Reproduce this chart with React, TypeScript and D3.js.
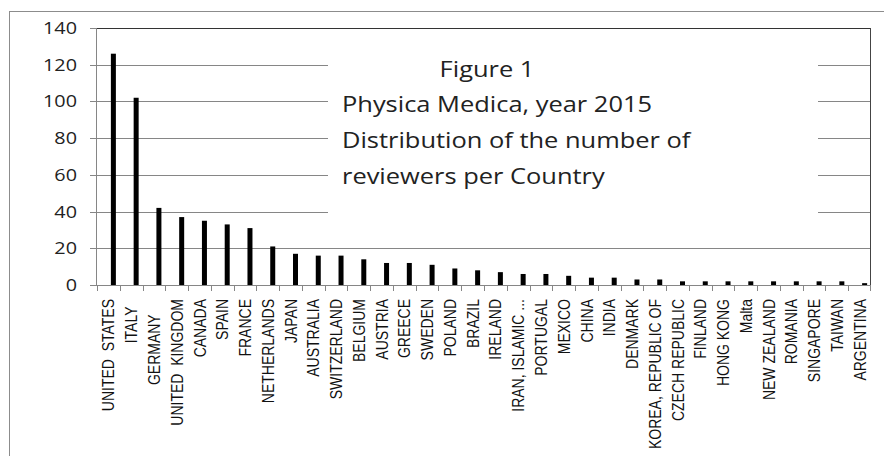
import React from 'react';
import * as d3 from 'd3';

// reviewers per country, Physica Medica 2015
const countries = [
  'UNITED  STATES', 'ITALY  ', 'GERMANY    ', 'UNITED  KINGDOM', 'CANADA', 'SPAIN', 'FRANCE',
  'NETHERLANDS', 'JAPAN', 'AUSTRALIA', 'SWITZERLAND', 'BELGIUM', 'AUSTRIA', 'GREECE',
  'SWEDEN', 'POLAND', 'BRAZIL', 'IRELAND', 'IRAN, ISLAMIC ...', 'PORTUGAL', 'MEXICO',
  'CHINA', 'INDIA', 'DENMARK', 'KOREA, REPUBLIC OF', 'CZECH REPUBLIC', 'FINLAND',
  'HONG KONG', 'Malta', 'NEW ZEALAND', 'ROMANIA', 'SINGAPORE', 'TAIWAN', 'ARGENTINA',
];
const reviewers = [
  126, 102, 42, 37, 35, 33, 31, 21, 17, 16, 16, 14, 12, 12, 11, 9, 8, 7, 6, 6, 5,
  4, 4, 3, 3, 2, 2, 2, 2, 2, 2, 2, 2, 1,
];
const yTicks = [0, 20, 40, 60, 80, 100, 120, 140];
const titleLines = [
  'Physica Medica, year 2015',
  'Distribution of the number of',
  'reviewers per Country',
];
const figureLabel = 'Figure 1';

const W = 884;
const H = 456;
const margin = { top: 28, right: 13, bottom: 171, left: 97 };

export default function App() {
  const innerW = W - margin.left - margin.right;
  const innerH = H - margin.top - margin.bottom;

  const x = d3.scaleBand<string>().domain(countries).range([0, innerW]).padding(0);
  const y = d3.scaleLinear().domain([0, 140]).range([innerH, 0]);
  const barW = 5;
  const barShift = 5; // bars sit a bit right of the band centre
  const stretch = 1.2; // the original picture is drawn wider than it is tall

  return (
    <svg
      width={W}
      height={H}
      style={{ position: 'absolute', left: 0, top: 0, background: '#fff' }}
    >
      {/* outer chart frame */}
      <rect x={9.5} y={11.5} width={W + 10} height={H + 10} fill="#fff" stroke="#8c8c8c" />

      <g transform={`translate(${margin.left},${margin.top})`}>
        {/* gridlines */}
        {yTicks.filter(t => t > 0 && t < 140).map(t => (
          <line key={t} x1={0} x2={innerW} y1={Math.round(y(t)) + 0.5} y2={Math.round(y(t)) + 0.5}
            stroke="#868686" />
        ))}

        {/* white box holding the title text */}
        <rect x={231} y={14} width={490} height={187} fill="#fff" />

        {/* plot border top/right */}
        <line x1={0} x2={innerW} y1={0.5} y2={0.5} stroke="#333" />
        <line x1={innerW - 0.5} x2={innerW - 0.5} y1={0} y2={innerH} stroke="#444" />

        {/* y axis */}
        <line x1={-0.5} x2={-0.5} y1={0} y2={innerH} stroke="#868686" />
        {yTicks.map(t => (
          <g key={t} transform={`translate(-20,${Math.round(y(t)) + 0.5}) scale(${stretch},1)`}>
            <text dy="0.36em" textAnchor="end" fontFamily="'Open Sans', sans-serif"
              fontSize={16.5} fill="#222">
              {t}
            </text>
          </g>
        ))}
        {yTicks.map(t => (
          <line key={t} x1={-7} x2={0} y1={Math.round(y(t)) + 0.5} y2={Math.round(y(t)) + 0.5}
            stroke="#868686" />
        ))}

        {/* bars */}
        {countries.map((c, i) => (
          <rect key={c} x={(x(c) as number) + x.bandwidth() / 2 + barShift - barW / 2}
            y={y(reviewers[i])} width={barW} height={innerH - y(reviewers[i])} fill="#000" />
        ))}

        {/* x axis */}
        <line x1={0} x2={innerW} y1={innerH + 0.5} y2={innerH + 0.5} stroke="#868686" />
        {countries.map(c => (
          <line key={c} x1={Math.round(x(c) as number) + 0.5} x2={Math.round(x(c) as number) + 0.5}
            y1={innerH} y2={innerH + 6} stroke="#868686" />
        ))}
        <line x1={innerW - 0.5} x2={innerW - 0.5} y1={innerH} y2={innerH + 6} stroke="#868686" />
        {countries.map(c => (
          <text key={c}
            transform={`translate(${(x(c) as number) + x.bandwidth() / 2},${innerH + 14}) scale(${stretch},1) rotate(-90)`}
            dy="0.36em" textAnchor="end" fontFamily="'Liberation Sans', Arial, sans-serif" fontSize={14}
            fill="#111" style={{ whiteSpace: 'pre' }}>
            {c}
          </text>
        ))}

        {/* title text */}
        <g fontFamily="'Open Sans', sans-serif" fontSize={21.2} fill="#222"
          transform={`scale(${stretch},1)`}>
          <text x={390 / stretch} y={49} textAnchor="middle">{figureLabel}</text>
          {titleLines.map((l, i) => (
            <text key={l} x={245 / stretch} y={84 + i * 36}>{l}</text>
          ))}
        </g>
      </g>
    </svg>
  );
}
